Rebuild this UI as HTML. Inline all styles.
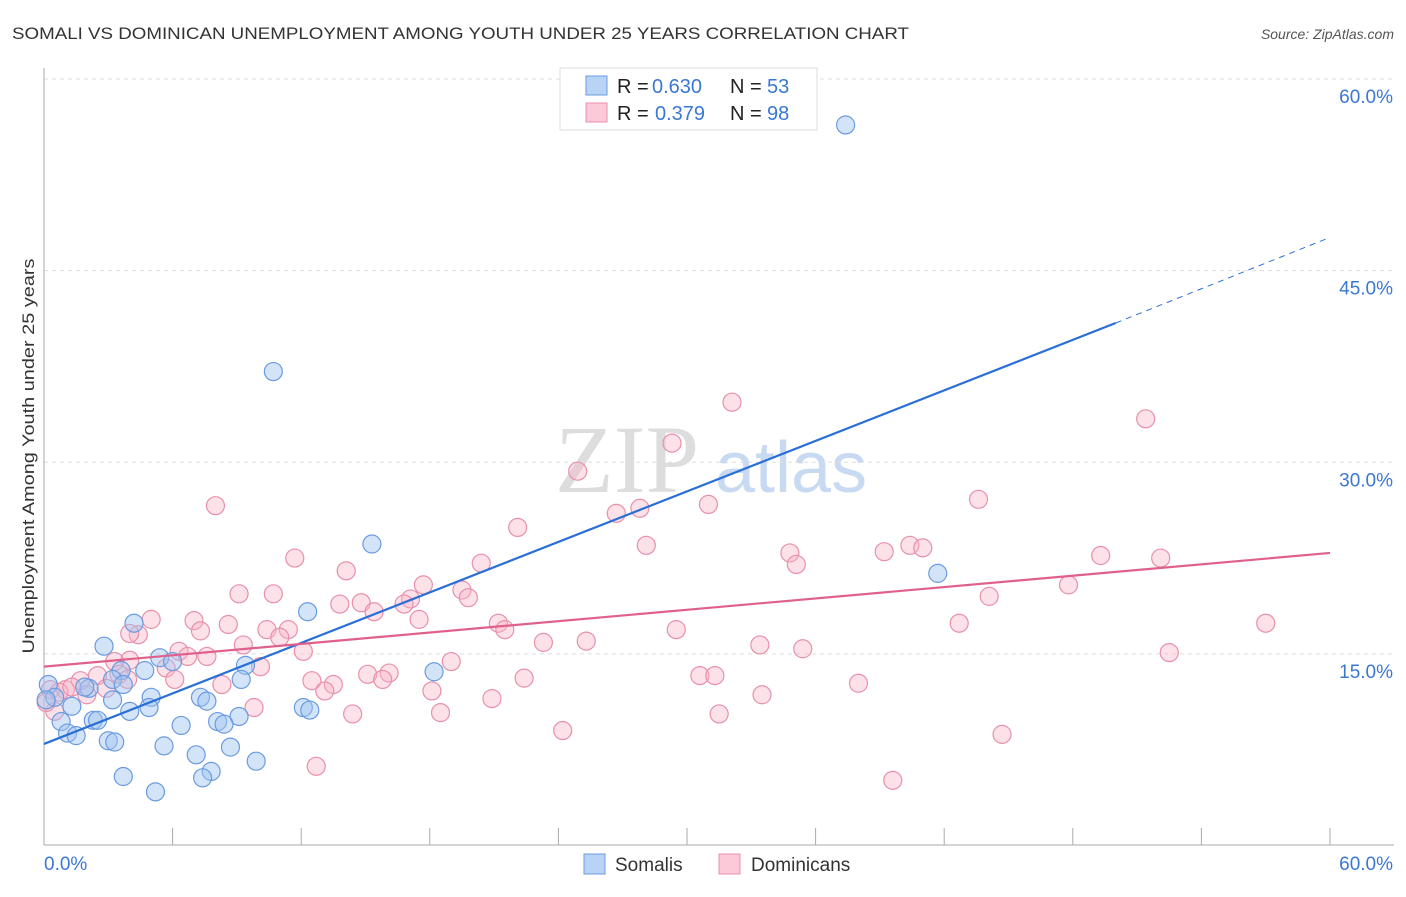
<!DOCTYPE html>
<html><head><meta charset="utf-8"><style>
body{margin:0;background:#fff;font-family:"Liberation Sans",sans-serif}
</style></head><body>
<svg id="chart" width="1406" height="892" xmlns="http://www.w3.org/2000/svg" font-family="Liberation Sans, sans-serif">
<text x="12" y="39" font-size="17" fill="#333" textLength="897" lengthAdjust="spacingAndGlyphs">SOMALI VS DOMINICAN UNEMPLOYMENT AMONG YOUTH UNDER 25 YEARS CORRELATION CHART</text>
<text x="1394" y="39" font-size="14" fill="#555" text-anchor="end" font-style="italic">Source: ZipAtlas.com</text>
<text transform="translate(34,456) rotate(-90)" font-size="17" fill="#333" text-anchor="middle" textLength="395" lengthAdjust="spacingAndGlyphs">Unemployment Among Youth under 25 years</text>
<g>
<text x="555" y="492" font-family="Liberation Serif, serif" font-size="96" fill="#ddd">ZIP</text>
<text x="715" y="492" font-size="72" fill="#c8daf2">atlas</text>
</g>
<g id="grid"></g>
<g id="axes"></g>
<g id="marks"></g>
<g>
<rect x="560" y="68" width="257" height="62" fill="#fff" stroke="#ddd"/>
<rect x="586" y="76" width="21" height="19" fill="#b9d3f5" stroke="#6a9be0"/>
<rect x="586" y="103" width="21" height="19" fill="#fbc9d8" stroke="#e890ab"/>
<g font-size="20" fill="#222">
<text x="617" y="93">R =</text><text x="652" y="93" fill="#3a78d4">0.630</text><text x="730" y="93">N =</text><text x="767" y="93" fill="#3a78d4">53</text>
<text x="617" y="120">R =</text><text x="655" y="120" fill="#3a78d4">0.379</text><text x="730" y="120">N =</text><text x="767" y="120" fill="#3a78d4">98</text>
</g>
</g>
<g>
<rect x="584" y="854" width="21" height="20" fill="#b9d3f5" stroke="#6a9be0"/>
<text x="615" y="871" font-size="19" fill="#333">Somalis</text>
<rect x="719" y="854" width="21" height="20" fill="#fbc9d8" stroke="#e890ab"/>
<text x="751" y="871" font-size="19" fill="#333">Dominicans</text>
</g>
</svg>
<script>
const yTicks=[15,30,45,60];
const yTickLabels=["15.0%","30.0%","45.0%","60.0%"];
const xTickLabels=["0.0%","60.0%"];
const somaliX=[37.4,10.7,15.3,41.7,12.3,18.2,2.8,4.2,5.4,6.0,3.6,4.7,9.4,9.2,3.2,3.7,2.1,1.9,0.2,0.5,5.0,3.2,7.3,7.6,1.3,4.0,4.9,12.1,12.4,9.1,8.1,8.4,6.4,0.8,2.3,2.5,1.1,1.5,3.0,3.3,5.6,8.7,7.1,9.9,7.8,7.4,3.7,5.2,0.1];
const somaliY=[56.4,37.1,23.6,21.3,18.3,13.6,15.6,17.4,14.7,14.4,13.7,13.7,14.1,13.0,13.0,12.6,12.3,12.4,12.6,11.6,11.6,11.4,11.6,11.3,10.9,10.5,10.8,10.8,10.6,10.1,9.7,9.5,9.4,9.7,9.8,9.8,8.8,8.6,8.2,8.1,7.8,7.7,7.1,6.6,5.8,5.3,5.4,4.2,11.4];
const domX=[32.1,51.4,29.3,24.9,8.0,43.6,31.0,27.8,26.7,22.1,28.1,39.2,40.4,41.0,34.8,35.1,49.3,52.1,11.7,20.4,14.1,47.8,9.1,10.7,19.5,17.7,19.8,17.1,16.8,13.8,14.8,15.4,44.1,5.0,7.0,17.5,21.2,21.5,7.3,8.6,10.4,11.4,4.4,23.3,25.3,29.5,42.7,57.0,35.4,33.4,52.5,9.3,11.0,12.1,6.3,6.7,7.6,4.0,3.3,10.1,5.7,19.0,15.1,16.1,15.8,3.5,6.1,2.5,1.7,12.5,13.5,13.1,38.0,22.4,30.6,31.3,8.3,2.9,1.0,0.3,0.7,18.1,2.0,20.9,33.5,9.8,14.4,18.5,31.5,24.2,44.7,12.7,39.6,4.0,0.5,0.1,1.3,3.9];
const domY=[34.7,33.4,31.5,29.3,26.6,27.1,26.7,26.4,26.0,24.9,23.5,23.0,23.5,23.3,22.9,22.0,22.7,22.5,22.5,22.1,21.5,20.4,19.7,19.7,20.0,20.4,19.4,19.3,18.9,18.9,19.0,18.3,19.5,17.7,17.6,17.7,17.4,16.9,16.8,17.3,16.9,16.9,16.5,15.9,16.0,16.9,17.4,17.4,15.4,15.7,15.1,15.7,16.3,15.2,15.2,14.8,14.8,14.5,14.4,14.0,13.9,14.4,13.4,13.5,13.0,13.4,13.0,13.3,12.9,12.9,12.6,12.1,12.7,13.1,13.3,13.3,12.6,12.3,12.2,12.2,12.0,12.1,11.8,11.5,11.8,10.8,10.3,10.4,10.3,9.0,8.7,6.2,5.1,16.6,10.5,11.2,12.4,13.0];
const somaliTrend=[[0,7.95],[50,40.9],[60,47.6]];
const domTrend=[[0,14.0],[60,22.9]];
const NS="http://www.w3.org/2000/svg";
const X0=44,X1=1330,Y0=845.5,Y60=79;
function sx(v){return X0+(X1-X0)*v/60;}
function sy(v){return Y0-(Y0-Y60)*v/60;}
function mk(t,a,p){const e=document.createElementNS(NS,t);for(const k in a)e.setAttribute(k,a[k]);p.appendChild(e);return e;}
const grid=document.getElementById('grid'),axes=document.getElementById('axes'),marks=document.getElementById('marks');
yTicks.forEach((t,i)=>{
 const l=mk('line',{x1:X0,x2:1394,y1:sy(t),y2:sy(t),stroke:'#ddd','stroke-dasharray':'4,4'},grid);
 
 
 const tx=mk('text',{x:1393,y:sy(t)+24,'font-size':19,fill:'#3a78d4','text-anchor':'end'},axes);
 tx.textContent=yTickLabels[i];
 
 
});
const ax=mk('line',{x1:X0,x2:1394,y1:845,y2:845,stroke:'#aaa'},axes);


const ay=mk('line',{x1:X0,x2:X0,y1:68,y2:845,stroke:'#aaa'},axes);


for(let i=0;i<=10;i++){
 const t=mk('line',{x1:sx(i*6),x2:sx(i*6),y1:828,y2:845,stroke:'#aaa'},axes);
 
 
}
[[0,'start',44],[60,'end',1393]].forEach((d,i)=>{
 const tx=mk('text',{x:d[2],y:870,'font-size':19,fill:'#3a78d4','text-anchor':d[1]},axes);
 tx.textContent=xTickLabels[i];
 
 
});
function pts(xs,ys,fill,stroke,name){
 xs.forEach((x,i)=>{
  const c=mk('circle',{cx:sx(x),cy:sy(ys[i]),r:9,fill:fill,stroke:stroke,'stroke-width':1.2},marks);
  
  
 });
}
pts(domX,domY,'rgba(248,180,200,0.4)','#e890ab','dominican-point');
pts(somaliX,somaliY,'rgba(160,196,240,0.45)','#6a9be0','somali-point');
const bl=mk('line',{x1:sx(somaliTrend[0][0]),y1:sy(somaliTrend[0][1]),x2:sx(somaliTrend[1][0]),y2:sy(somaliTrend[1][1]),stroke:'#2a6fd6','stroke-width':2.2},marks);


const bd=mk('line',{x1:sx(somaliTrend[1][0]),y1:sy(somaliTrend[1][1]),x2:sx(somaliTrend[2][0]),y2:sy(somaliTrend[2][1]),stroke:'#2a6fd6','stroke-width':1,'stroke-dasharray':'6,5'},marks);


const pl=mk('line',{x1:sx(domTrend[0][0]),y1:sy(domTrend[0][1]),x2:sx(domTrend[1][0]),y2:sy(domTrend[1][1]),stroke:'#e0608c','stroke-width':2.2},marks);


</script>
</body></html>
